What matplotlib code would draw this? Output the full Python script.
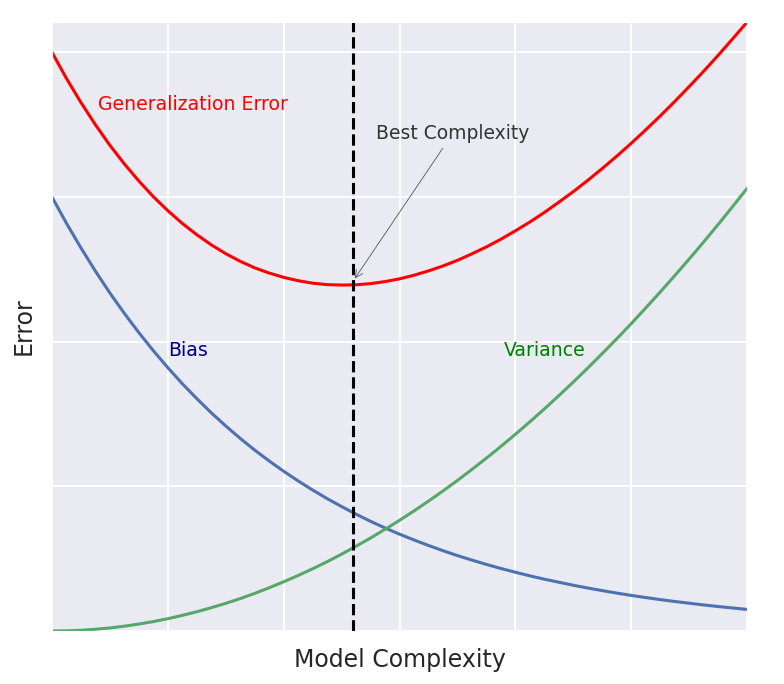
import matplotlib
matplotlib.use('Agg')
import matplotlib.pyplot as plt
import seaborn as sns

# valores (x em unidades de grade, passo 0.125)
x = [0.0, 0.125, 0.25, 0.375, 0.5, 0.625, 0.75, 0.875, 1.0, 1.125, 1.25, 1.375,
     1.5, 1.625, 1.75, 1.875, 2.0, 2.125, 2.25, 2.375, 2.5, 2.625, 2.75, 2.875,
     3.0, 3.125, 3.25, 3.375, 3.5, 3.625, 3.75, 3.875, 4.0, 4.125, 4.25, 4.375,
     4.5, 4.625, 4.75, 4.875, 5.0, 5.125, 5.25, 5.375, 5.5, 5.625, 5.75, 5.875, 6.0]
bias = [3.000, 2.818, 2.648, 2.487, 2.336, 2.195, 2.062, 1.937, 1.820, 1.709, 1.606, 1.508,
        1.417, 1.331, 1.250, 1.175, 1.104, 1.037, 0.974, 0.915, 0.860, 0.807, 0.758, 0.712,
        0.669, 0.629, 0.591, 0.555, 0.521, 0.490, 0.460, 0.432, 0.406, 0.381, 0.358, 0.337,
        0.316, 0.297, 0.279, 0.262, 0.246, 0.231, 0.217, 0.204, 0.192, 0.180, 0.169, 0.159, 0.149]
variance = [0.000, 0.001, 0.005, 0.012, 0.021, 0.033, 0.048, 0.065, 0.085, 0.108, 0.133, 0.161,
            0.191, 0.224, 0.260, 0.299, 0.340, 0.384, 0.430, 0.479, 0.531, 0.586, 0.643, 0.703,
            0.765, 0.830, 0.898, 0.968, 1.041, 1.117, 1.195, 1.276, 1.360, 1.446, 1.535, 1.627,
            1.721, 1.818, 1.918, 2.020, 2.125, 2.233, 2.343, 2.456, 2.571, 2.689, 2.810, 2.934, 3.060]
gen_error = [4.000, 3.819, 3.653, 3.499, 3.357, 3.228, 3.110, 3.002, 2.905, 2.817, 2.739, 2.669,
             2.608, 2.555, 2.510, 2.474, 2.444, 2.421, 2.404, 2.394, 2.391, 2.393, 2.401, 2.415,
             2.434, 2.459, 2.489, 2.523, 2.562, 2.607, 2.655, 2.708, 2.766, 2.827, 2.893, 2.964,
             3.037, 3.115, 3.197, 3.282, 3.371, 3.464, 3.560, 3.660, 3.763, 3.869, 3.979, 4.093, 4.209]
best_x = 2.6
best_y = 2.39

sns.set_style('darkgrid')
plt.rcParams['grid.linewidth'] = 1.4

fig = plt.figure(figsize=(7.84, 6.84), dpi=100)
ax = fig.add_axes([0.0663, 0.0775, 0.8867, 0.8905])

ax.plot(x, bias, color='#4c72b0', lw=2.2)
ax.plot(x, variance, color='#55a868', lw=2.2)
ax.plot(x, gen_error, color='red', lw=2.2)
ax.axvline(best_x, color='black', ls='--', lw=2.2)

ax.text(0.4, 3.64, 'Generalization Error', color='red', fontsize=13.6, va='center')
ax.text(1.0, 1.94, 'Bias', color='navy', fontsize=13.6, va='center')
ax.text(3.9, 1.94, 'Variance', color='green', fontsize=13.6, va='center')
ax.annotate('Best Complexity', xy=(best_x, best_y + 0.03), xytext=(3.46, 3.44),
            ha='center', va='center', fontsize=13.5, color='#333333',
            arrowprops=dict(arrowstyle='->', color='#555555', lw=0.6))

ax.set_xlim(0, 6)
ax.set_ylim(0, 4.21)
ax.set_xticks([0, 1, 2, 3, 4, 5, 6])
ax.set_yticks([0, 1, 2, 3, 4])
ax.set_xticklabels([])
ax.set_yticklabels([])
ax.tick_params(length=0)
ax.set_xlabel('Model Complexity', fontsize=17, color='#262626', labelpad=9)
ax.set_ylabel('Error', fontsize=17, color='#262626', labelpad=8)

fig.savefig('out.png', dpi=100)
